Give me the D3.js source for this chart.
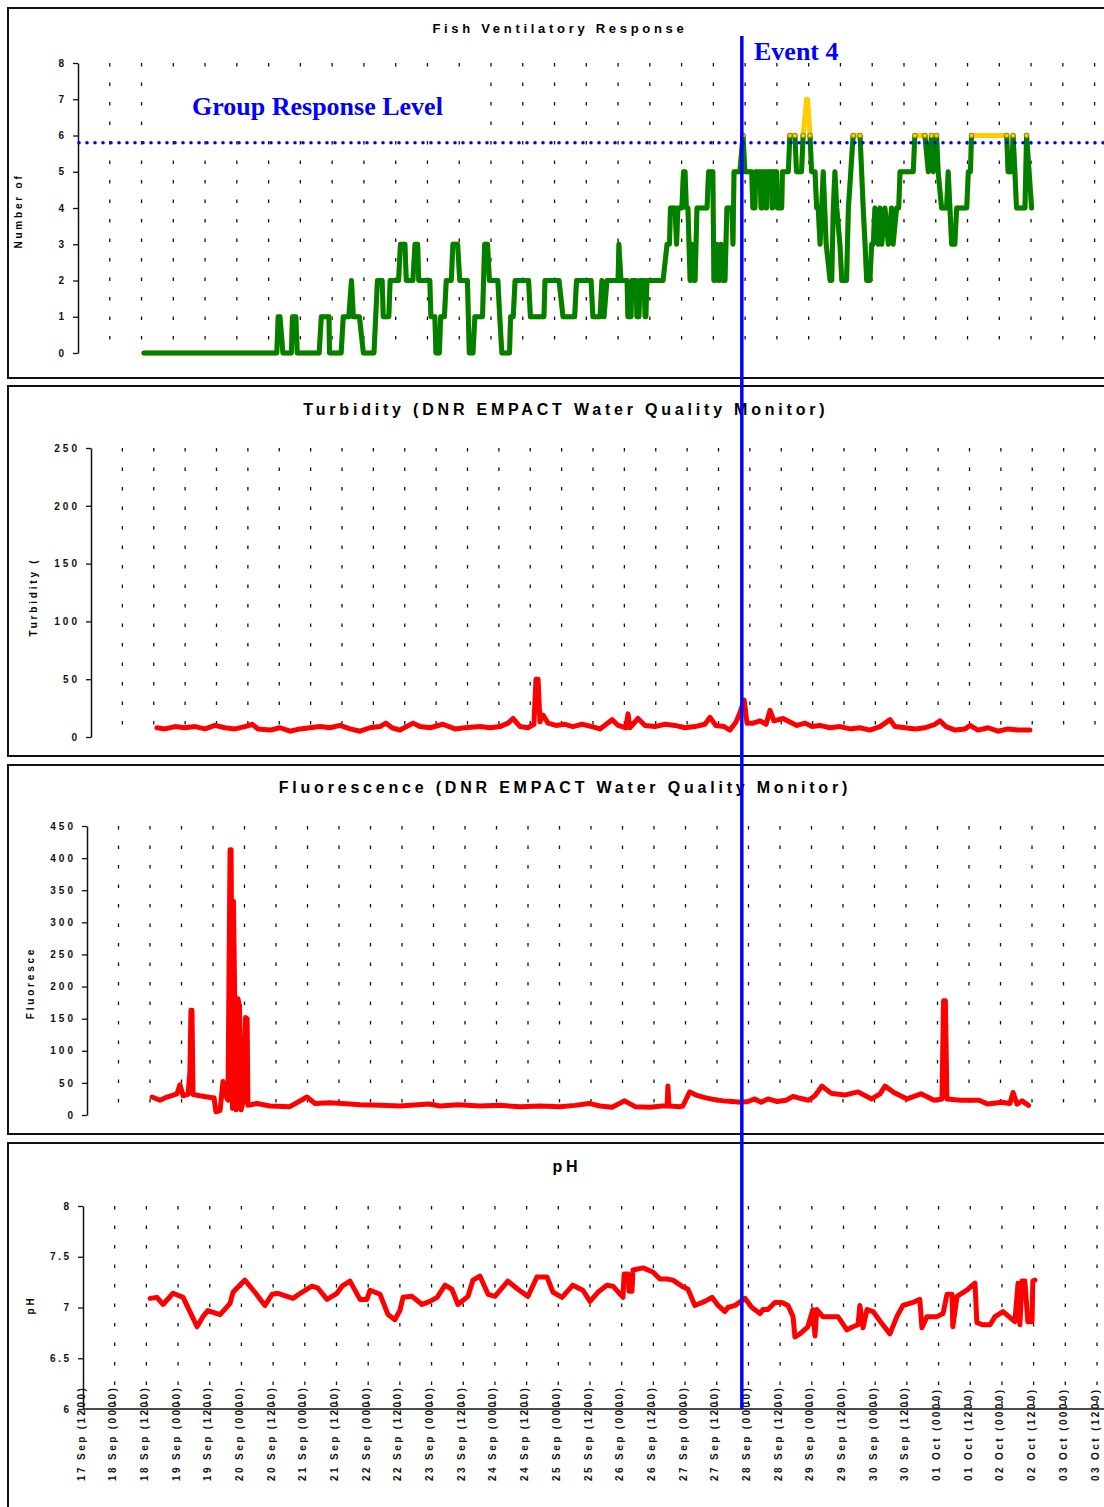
<!DOCTYPE html>
<html>
<head>
<meta charset="utf-8">
<script src="https://cdn.jsdelivr.net/npm/d3@7"></script>
<style>
  body { margin: 0; background: #fff; }
  svg { display: block; }
  text { font-family: "Liberation Sans", Arial, sans-serif; font-weight: bold; }
</style>
</head>
<body>
<svg id="chart" width="1104" height="1507"></svg>
<script>
// time axis: 17 Sep 12:00 -> 03 Oct 12:00, data times are hours after the start
const t0 = Date.UTC(2003, 8, 17, 12);
const t1 = Date.UTC(2003, 9, 3, 12);
const at = h => new Date(t0 + h * 36e5);

const groupResponseLevel = 5.8;
const eventHour = 249.5;

const fishCount = [
  [24.9,0],[75.1,0],[75.6,1],[76.3,1],[77.4,0],[80.6,0],[81.0,1],[82.3,1],[82.8,0],
  [91.1,0],[91.9,1],[94.8,1],[95.0,0],[99.4,0],[100.2,1],[102.3,1],[103.3,2],[104.0,1],[106.3,1],[107.8,0],
  [111.8,0],[113.1,2],[114.9,2],[115.3,1],[117.4,1],[117.9,2],[121.1,2],[121.8,3],[123.5,3],[124.0,2],
  [126.5,2],[127.3,3],[128.3,3],[128.7,2],[132.9,2],[133.3,1],[134.8,1],[135.2,0],[136.5,0],[137.0,1],
  [138.4,1],[139.1,2],[141.0,2],[141.6,3],[143.4,3],[144.2,2],[147.1,2],[147.8,0],[149.2,0],[149.9,1],
  [152.8,1],[153.6,3],[154.7,3],[155.4,2],[158.6,2],[159.3,1],[160.1,0],[163.0,0],[163.4,1],[164.4,1],
  [165.1,2],[170.2,2],[170.9,1],[176.0,1],[176.4,2],[181.7,2],[183.2,1],[187.6,1],[188.3,2],[193.8,2],
  [194.5,1],[197.2,1],[197.9,2],[198.7,1],[199.8,2],[204.0,2],[204.3,3],[205.1,2],[207.4,2],[207.7,1],
  [208.9,1],[209.2,2],[210.8,2],[211.1,1],[211.9,1],[212.3,2],[213.8,2],[214.2,1],[214.5,1],[214.9,2],
  [221.0,2],[222.5,3],[223.4,3],[223.8,4],[225.5,4],[226.1,3],[226.6,4],[228.1,4],[228.7,5],[229.3,5],
  [229.8,4],[230.4,4],[231.2,2],[231.9,3],[232.7,2],[233.1,2],[233.8,4],[237.6,4],[238.2,5],[239.8,5],
  [240.2,2],[240.6,2],[241.3,3],[242.1,2],[242.9,3],[243.6,2],[244.4,2],[245.1,4],[247.0,4],[247.4,3],
  [247.8,5],[250.0,5],[251.2,6],[251.9,5],[254.5,5],[254.9,4],[255.7,4],[256.0,5],[257.6,5],[258.0,4],
  [258.3,4],[258.6,5],[259.5,5],[259.8,4],[260.1,4],[260.4,5],[262.0,5],[262.2,4],[262.4,4],[262.7,5],
  [263.9,5],[264.2,4],[265.8,4],[266.1,5],[268.3,5],[268.9,6],[270.8,6],[271.4,5],[273.3,5],[273.9,6],
  [275.2,7],[275.6,7],[276.5,6],[277.1,5],[278.4,5],[279.0,4],[279.6,4],[280.3,3],[281.5,5],[282.6,3],
  [284.1,2],[284.7,2],[285.3,4],[285.9,5],[286.6,4],[287.8,3],[288.5,2],[290.3,2],[291.0,4],[292.8,6],
  [295.4,6],[296.6,4],[297.3,3],[297.9,2],[299.1,2],[299.8,3],[300.4,3],[301.0,4],[302.3,3],[302.9,4],
  [303.6,3],[304.8,4],[306.1,3],[307.3,4],[307.9,3],[309.2,4],[310.0,4],[310.5,5],[315.5,5],[316.1,6],
  [319.9,6],[321.2,5],[322.4,6],[323.0,5],[324.3,6],[324.9,5],[326.2,4],[328.1,4],[328.7,5],[330.0,3],
  [331.2,3],[331.9,4],[335.7,4],[336.3,5],[337.1,5],[337.5,6],[350.8,6],[351.3,5],[352.6,5],[353.2,6],
  [353.9,5],[354.5,4],[357.7,4],[358.3,6],[360.2,4]
];

const turbidity = [
  [25.2,8],[28.3,7],[32.1,9],[35.9,8],[39.8,9],[43.6,7],[47.4,10],[51.2,8],[55.1,7],[58.9,9],
  [61.6,11],[63.9,7],[68.5,6],[72.3,8],[76.1,5],[79.9,7],[83.8,8],[87.6,9],[91.4,8],[95.2,10],
  [99.1,7],[102.9,5],[106.7,8],[110.5,9],[112.8,12],[115.1,8],[118.2,6],[123.2,12],[125.8,9],[129.7,8],
  [134.6,11],[139.2,7],[143.0,8],[148.8,9],[152.6,8],[156.4,9],[159.5,12],[161.4,16],[164.1,9],[167.1,8],
  [169.4,11],[170.2,50],[171.0,50],[171.7,13],[172.9,19],[174.8,12],[177.8,10],[181.3,11],[184.3,9],[187.8,11],
  [191.6,9],[194.7,7],[199.3,15],[201.6,10],[204.6,8],[205.4,20],[206.1,8],[209.2,16],[211.9,10],[215.7,9],
  [219.5,11],[223.4,10],[227.2,8],[231.0,9],[234.8,11],[236.7,17],[239.0,10],[242.1,9],[244.4,6],[246.7,13],
  [248.2,21],[249.8,32],[250.9,12],[253.2,12],[255.9,14],[258.2,11],[259.7,23],[261.2,14],[264.7,16],[267.3,13],
  [270.0,10],[273.1,12],[275.8,9],[278.8,10],[282.6,8],[286.5,9],[290.3,7],[294.1,8],[297.9,6],[301.8,9],
  [305.6,15],[307.5,9],[311.3,8],[315.2,7],[319.0,8],[322.8,11],[324.7,14],[327.0,9],[330.5,6],[334.3,7],
  [336.2,10],[339.2,6],[343.1,8],[346.9,5],[350.7,7],[354.5,6],[359.1,6]
];

const fluorescence = [
  [24.8,28],[27.8,23],[30.5,28],[34.3,33],[35.4,47],[36.6,30],[38.5,32],[39.2,67],[39.6,163],[40.0,163],
  [40.4,32],[43.0,30],[47.6,27],[48.4,27],[49.1,5],[50.7,7],[51.8,52],[52.6,32],[53.7,23],[54.5,413],
  [54.9,413],[55.4,10],[55.8,333],[56.8,8],[57.5,181],[58.1,170],[58.7,8],[59.4,20],[60.4,152],[61.0,150],
  [61.3,15],[64.8,18],[69.7,14],[77.3,13],[83.8,28],[86.9,18],[92.6,19],[100.2,17],[104.0,16],[111.6,15],
  [119.2,14],[130.3,17],[134.5,14],[141.3,16],[149.7,14],[157.3,15],[165.0,13],[172.6,14],[180.2,13],[185.9,15],
  [191.2,18],[195.4,14],[200.0,12],[204.8,22],[208.8,13],[214.5,12],[219.0,14],[221.0,14],[221.3,45],[221.7,14],
  [225.9,13],[227.0,14],[229.6,36],[232.0,31],[235.4,27],[238.9,24],[242.3,22],[245.7,21],[249.1,20],[251.8,21],
  [254.4,25],[256.8,20],[259.4,25],[262.9,21],[266.3,23],[269.0,29],[271.6,26],[274.9,23],[277.3,30],[280.0,45],
  [283.4,34],[288.6,31],[293.7,36],[298.9,25],[302.1,33],[304.0,45],[307.4,35],[312.4,25],[317.7,33],[322.7,23],
  [325.7,25],[326.3,178],[327.0,178],[327.6,25],[332.9,23],[339.8,23],[343.2,17],[348.5,20],[351.6,18],[352.8,35],
  [354.3,17],[356.2,22],[358.7,15]
];

const pH = [
  [25.4,7.09],[28.0,7.10],[30.3,7.03],[34.1,7.14],[37.9,7.10],[40.5,6.96],[43.2,6.81],[45.4,6.91],[47.3,6.97],[51.9,6.93],
  [55.7,7.04],[56.8,7.15],[61.3,7.27],[65.1,7.15],[68.9,7.02],[71.6,7.13],[73.8,7.14],[79.5,7.09],[82.9,7.15],[86.7,7.21],
  [89.0,7.19],[92.4,7.08],[96.2,7.14],[98.1,7.21],[101.1,7.26],[104.9,7.08],[107.5,7.08],[108.7,7.17],[112.5,7.13],[115.5,6.93],
  [118.1,6.88],[120.0,6.97],[121.2,7.10],[124.6,7.11],[128.4,7.03],[131.4,7.06],[134.1,7.10],[137.1,7.22],[139.7,7.18],[142.0,7.03],
  [145.8,7.11],[147.7,7.27],[150.3,7.31],[153.4,7.13],[156.0,7.11],[160.9,7.26],[164.7,7.18],[168.5,7.11],[171.9,7.30],[175.7,7.30],
  [178.0,7.15],[181.4,7.10],[185.5,7.22],[189.3,7.17],[192.0,7.06],[195.0,7.15],[198.4,7.22],[200.7,7.21],[204.5,7.10],[204.9,7.33],
  [206.4,7.33],[206.8,7.16],[207.9,7.16],[208.3,7.37],[212.1,7.39],[215.8,7.35],[218.5,7.28],[221.1,7.28],[223.4,7.27],[226.8,7.21],
  [229.1,7.18],[231.7,7.02],[235.5,7.06],[238.2,7.10],[240.5,7.02],[243.1,6.96],[244.2,7.00],[246.9,7.02],[250.7,7.09],[253.3,7.00],
  [256.4,6.94],[257.5,6.98],[259.4,6.98],[262.0,7.05],[264.7,7.05],[267.0,7.02],[268.9,6.91],[269.6,6.71],[271.5,6.74],[274.5,6.81],
  [276.4,6.98],[277.2,6.72],[277.9,6.98],[280.2,6.91],[283.6,6.91],[285.9,6.91],[289.3,6.78],[291.6,6.81],[293.5,6.83],[294.2,7.02],
  [295.4,6.80],[296.9,6.98],[299.2,6.96],[302.6,6.84],[305.6,6.74],[308.2,6.91],[310.5,7.02],[314.3,7.05],[316.9,7.08],[317.7,6.80],
  [319.6,6.91],[323.4,6.91],[325.7,6.94],[327.2,7.13],[329.1,7.13],[329.4,6.81],[331.0,7.11],[334.7,7.17],[337.8,7.24],[338.5,6.85],
  [340.8,6.83],[343.5,6.83],[345.4,6.91],[348.4,6.96],[352.9,6.86],[354.1,7.24],[354.8,6.83],[355.6,7.26],[356.7,7.26],[357.8,6.86],
  [359.4,6.86],[359.7,7.26],[360.5,7.27]
];

const panels = [
  { top: 8, bottom: 378, xRange: [78, 1094.6], yRange: [353, 63], domain: [0, 8], ticks: d3.range(0, 9, 1),
    tickFont: 10, tickSpacing: 0, title: "Fish Ventilatory Response", titleX: 558, titleY: 33, titleSize: 13,
    yTitle: "Number of", yTitleX: 18, yTitleY: 211 },
  { top: 386, bottom: 756, xRange: [91, 1095], yRange: [737, 448], domain: [0, 250], ticks: d3.range(0, 251, 50),
    tickFont: 10, tickSpacing: 3, title: "Turbidity (DNR EMPACT Water Quality Monitor)", titleX: 564, titleY: 415, titleSize: 16,
    yTitle: "Turbidity (", yTitleX: 33, yTitleY: 597 },
  { top: 765, bottom: 1134, xRange: [87, 1095], yRange: [1115, 826], domain: [0, 450], ticks: d3.range(0, 451, 50),
    tickFont: 10, tickSpacing: 3, title: "Fluorescence (DNR EMPACT Water Quality Monitor)", titleX: 563, titleY: 793, titleSize: 16,
    yTitle: "Fluoresce", yTitleX: 30, yTitleY: 983 },
  { top: 1143, bottom: 1530, xRange: [83, 1097], yRange: [1409, 1206], domain: [6, 8], ticks: [6, 6.5, 7, 7.5, 8],
    tickFont: 10, tickSpacing: 2.5, title: "pH", titleX: 565, titleY: 1172, titleSize: 16,
    yTitle: "pH", yTitleX: 30, yTitleY: 1305 }
];

const svg = d3.select("#chart");

function drawPanel(p) {
  const g = svg.append("g");

  g.append("rect")
    .attr("x", 8).attr("y", p.top)
    .attr("width", 1140).attr("height", p.bottom - p.top)
    .attr("fill", "#fff").attr("stroke", "#111").attr("stroke-width", 2);

  const x = d3.scaleUtc().domain([t0, t1]).range(p.xRange);
  const y = d3.scaleLinear().domain(p.domain).range(p.yRange);

  const halfDays = x.ticks(d3.utcHour.every(12));

  g.selectAll(".grid")
    .data(halfDays.slice(1))
    .join("line")
    .attr("class", "grid")
    .attr("x1", d => x(d)).attr("x2", d => x(d))
    .attr("y1", p.yRange[1]).attr("y2", p.yRange[0])
    .attr("stroke", "#111").attr("stroke-width", 1.3)
    .attr("stroke-dasharray", "3.5 16");

  const yAxis = g.append("g")
    .attr("transform", `translate(${p.xRange[0]},0)`)
    .call(d3.axisLeft(y).tickValues(p.ticks).tickSize(5).tickSizeOuter(0).tickPadding(9)
      .tickFormat(d => String(d)));
  yAxis.select(".domain").attr("stroke", "#111").attr("stroke-width", 1.5);
  yAxis.selectAll(".tick line").attr("stroke", "#111").attr("stroke-width", 1.3);
  yAxis.selectAll("text")
    .attr("fill", "#111")
    .attr("font-size", p.tickFont)
    .style("letter-spacing", p.tickSpacing + "px")
    .attr("dx", p.tickSpacing);

  g.append("text")
    .text(p.title)
    .attr("x", p.titleX + 1.9).attr("y", p.titleY)
    .attr("text-anchor", "middle")
    .attr("font-size", p.titleSize)
    .style("letter-spacing", p.titleSize === 13 ? "3.7px" : "3.8px")
    .attr("fill", "#000");

  g.append("text")
    .text(p.yTitle)
    .attr("transform", `translate(${p.yTitleX},${p.yTitleY}) rotate(-90)`)
    .attr("text-anchor", "middle")
    .attr("dy", "0.35em")
    .attr("font-size", 10)
    .style("letter-spacing", "2.8px")
    .attr("fill", "#000");

  return { g, x, y, halfDays };
}

const [fishP, turbP, fluoP, phP] = panels.map(drawPanel);

const lineOf = (p) => d3.line()
  .x(d => p.x(at(d[0])))
  .y(d => p.y(d[1]));

// fish response: yellow for the whole record, green except where it stays at or above the response level
fishP.g.append("path")
  .attr("d", lineOf(fishP)(fishCount))
  .attr("fill", "none").attr("stroke", "#FFCC00").attr("stroke-width", 5)
  .attr("stroke-linejoin", "round").attr("stroke-linecap", "round");

const greenRuns = [];
let run = [fishCount[0]];
for (let i = 1; i < fishCount.length; i++) {
  const a = fishCount[i - 1], b = fishCount[i];
  if (a[1] >= 6 && b[1] >= 6) {
    if (run.length > 1) greenRuns.push(run);
    run = [b];
  } else {
    run.push(b);
  }
}
if (run.length > 1) greenRuns.push(run);

fishP.g.selectAll(".green")
  .data(greenRuns)
  .join("path")
  .attr("class", "green")
  .attr("d", lineOf(fishP))
  .attr("fill", "none").attr("stroke", "#008000").attr("stroke-width", 5)
  .attr("stroke-linejoin", "round").attr("stroke-linecap", "round");

fishP.g.selectAll(".mark")
  .data(fishCount.filter(d => d[1] === 6))
  .join("circle")
  .attr("class", "mark")
  .attr("cx", d => fishP.x(at(d[0])))
  .attr("cy", d => fishP.y(d[1]))
  .attr("r", 2.4)
  .attr("fill", "#FFCC00").attr("stroke", "#6b7a00").attr("stroke-width", 0.8);

const redLine = (p, data) => p.g.append("path")
  .attr("d", lineOf(p)(data))
  .attr("fill", "none").attr("stroke", "#FF0000").attr("stroke-width", 5)
  .attr("stroke-linejoin", "round").attr("stroke-linecap", "round");

redLine(turbP, turbidity);
redLine(fluoP, fluorescence);
redLine(phP, pH);

// time axis under the pH panel
const xAxis = phP.g.append("g")
  .attr("transform", `translate(0,${phP.y.range()[0]})`)
  .call(d3.axisBottom(phP.x).tickValues(phP.halfDays).tickSize(0)
    .tickFormat(d3.utcFormat("%d %b (%H%M)")));
xAxis.select(".domain").remove();
xAxis.selectAll("text")
  .attr("transform", "rotate(-90)")
  .attr("text-anchor", "start")
  .attr("x", -72)
  .attr("y", -2.5)
  .attr("dy", "0.35em")
  .attr("fill", "#111")
  .attr("font-size", 10)
  .style("letter-spacing", "2.4px");

phP.g.append("line")
  .attr("x1", phP.x.range()[0]).attr("x2", 1104)
  .attr("y1", phP.y.range()[0]).attr("y2", phP.y.range()[0])
  .attr("stroke", "#111").attr("stroke-width", 1.5);

// annotations
const notes = svg.append("g");
const serif = "'Liberation Serif', 'Times New Roman', serif";

notes.append("rect")
  .attr("x", 160).attr("y", 72).attr("width", 315).attr("height", 62)
  .attr("fill", "#fff");

notes.append("text")
  .text("Group Response Level")
  .attr("x", 192).attr("y", 115)
  .style("font-family", serif)
  .attr("font-size", 26)
  .attr("fill", "#0000FF");

notes.append("line")
  .attr("x1", 79).attr("x2", 1104)
  .attr("y1", fishP.y(groupResponseLevel)).attr("y2", fishP.y(groupResponseLevel))
  .attr("stroke", "#0000FF").attr("stroke-width", 3.6)
  .attr("stroke-linecap", "round").attr("stroke-dasharray", "0 8");

const eventX = phP.x(at(eventHour));
notes.append("line")
  .attr("x1", eventX).attr("x2", eventX)
  .attr("y1", 36).attr("y2", phP.y.range()[0])
  .attr("stroke", "#0000FF").attr("stroke-width", 3.5);

notes.append("text")
  .text("Event 4")
  .attr("x", 754).attr("y", 60)
  .style("font-family", serif)
  .attr("font-size", 26)
  .attr("fill", "#0000FF");
</script>
</body>
</html>
